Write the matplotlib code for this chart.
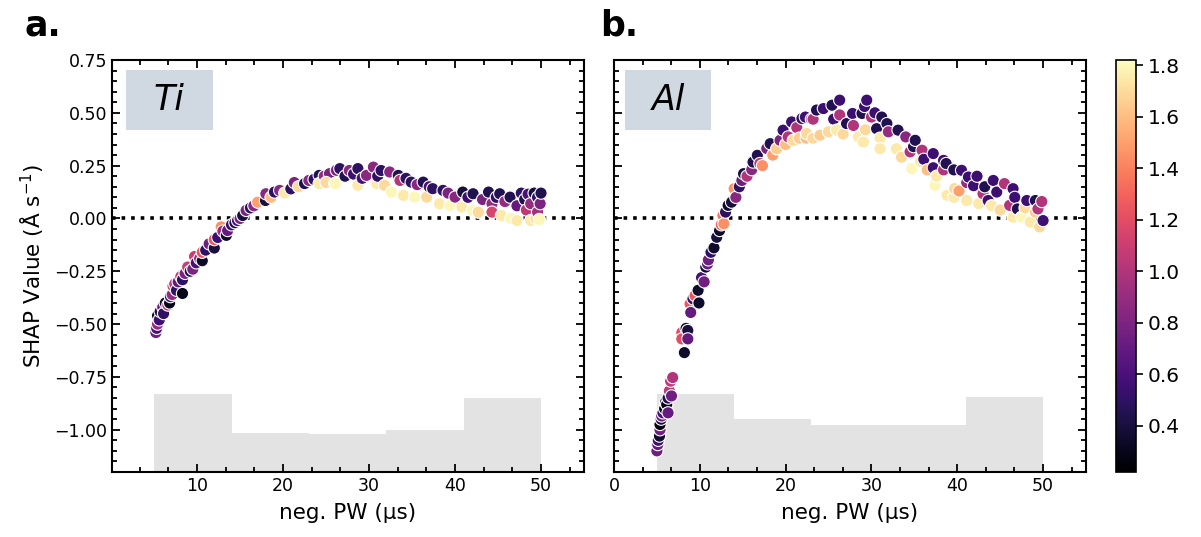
import numpy as np
import matplotlib
matplotlib.use("Agg")
import matplotlib.pyplot as plt
from matplotlib.ticker import MultipleLocator, AutoMinorLocator
from matplotlib.patches import Rectangle

# ---------------- data ----------------
ti_points = [
    (5.2,-0.54,0.75),(5.3,-0.52,0.6),(5.4,-0.50,0.9),(5.4,-0.46,0.3),(5.6,-0.48,0.55),(5.7,-0.44,0.4),
    (6.0,-0.42,0.75),(6.1,-0.45,0.5),(6.3,-0.40,0.35),(6.6,-0.41,1.05),(6.8,-0.40,0.3),(6.9,-0.37,0.55),
    (7.1,-0.36,0.9),(7.2,-0.32,1.1),(7.4,-0.31,1.05),(7.6,-0.34,0.5),(7.8,-0.30,0.7),(8.1,-0.275,1.1),
    (8.3,-0.355,0.3),(8.3,-0.29,0.5),(8.6,-0.26,0.8),(8.9,-0.23,1.1),(9.2,-0.25,0.45),(9.5,-0.24,0.8),
    (9.7,-0.18,1.1),(9.9,-0.21,0.6),(10.3,-0.19,0.85),(10.6,-0.20,0.35),(10.6,-0.16,1.25),(11.0,-0.15,0.5),
    (11.4,-0.12,0.75),(12.0,-0.14,0.4),(12.0,-0.10,1.25),(12.4,-0.09,0.55),(12.8,-0.04,1.45),(13.0,-0.06,0.9),
    (13.4,-0.08,0.35),(13.55,-0.057,0.7),(14.0,-0.03,0.55),(14.4,-0.02,0.4),(14.7,-0.01,0.6),(15.0,0.0,0.8),
    (15.3,0.014,0.4),(15.7,0.038,0.8),(16.2,0.05,0.5),(16.6,0.06,0.85),(17.05,0.077,1.5),(17.95,0.085,0.4),
    (18.0,0.117,0.85),(18.6,0.10,1.6),(19.0,0.125,0.5),(19.6,0.133,0.85),(20.2,0.12,1.75),(20.9,0.14,0.5),
    (21.3,0.17,0.8),(21.8,0.15,1.7),(22.5,0.165,0.45),(23.0,0.18,0.85),(23.6,0.185,0.5),(24.2,0.204,0.45),
    (24.2,0.165,1.75),(24.8,0.2,0.9),(25.4,0.212,0.8),(25.0,0.17,1.7),(26.0,0.165,1.75),(26.1,0.165,1.8),
    (26.2,0.228,0.8),(26.6,0.236,0.5),(27.2,0.2,0.45),(27.7,0.227,0.85),(28.2,0.21,0.55),(28.7,0.236,0.5),
    (28.7,0.157,1.75),(29.2,0.19,0.6),(29.7,0.204,0.85),(30.5,0.243,0.85),(30.9,0.165,1.75),(31.0,0.2,0.5),
    (31.4,0.227,0.5),(31.8,0.157,1.7),(32.4,0.22,0.85),(32.6,0.125,1.8),(33.4,0.204,0.45),(33.6,0.18,1.0),
    (34.0,0.109,1.75),(34.3,0.19,0.5),(34.9,0.172,0.5),(35.3,0.101,1.8),(35.6,0.16,0.85),(36.3,0.172,0.45),
    (36.7,0.101,1.7),(37.0,0.15,0.6),(37.4,0.141,0.5),(38.2,0.07,1.75),(38.6,0.133,0.5),(39.2,0.12,0.8),
    (39.4,0.062,1.8),(40.0,0.101,0.85),(40.9,0.125,0.4),(40.8,0.054,1.75),(41.5,0.10,0.55),(42.0,0.038,1.8),
    (42.1,0.117,0.45),(42.7,0.03,1.7),(43.2,0.09,0.8),(43.9,0.125,0.45),(44.3,0.07,0.9),(44.3,0.03,1.15),
    (44.8,0.1,0.5),(45.2,0.117,0.45),(45.4,0.014,1.75),(45.8,0.08,0.9),(46.4,0.101,0.45),(46.5,0.0,1.8),
    (47.2,-0.01,1.75),(47.2,0.06,0.7),(47.7,0.12,0.5),(48.1,0.09,0.45),(48.3,0.04,1.05),(48.5,0.115,0.6),
    (48.8,0.07,0.9),(48.8,-0.01,1.75),(49.2,0.12,0.4),(49.4,0.0,1.7),(49.6,0.1,0.5),(49.6,0.03,0.95),
    (49.8,-0.005,1.8),(49.9,0.07,0.8),(50.0,0.12,0.45),
]

al_points = [
    (5.0,-1.10,0.75),(5.1,-1.07,0.7),(5.16,-1.05,0.55),(5.3,-1.03,0.35),(5.36,-1.0,0.75),(5.36,-0.975,0.25),
    (5.5,-0.95,0.4),(5.56,-0.935,0.75),(5.7,-0.92,0.6),(5.9,-0.90,0.3),(6.0,-0.87,0.5),(6.14,-0.88,0.28),
    (6.3,-0.92,0.7),(6.3,-0.85,0.45),(6.45,-0.816,1.05),(6.6,-0.77,1.05),(6.7,-0.84,0.75),(6.84,-0.753,1.0),
    (7.9,-0.54,1.2),(7.9,-0.57,1.2),(8.2,-0.635,0.35),(8.4,-0.52,0.35),(8.6,-0.53,0.4),(8.6,-0.57,0.7),
    (8.86,-0.405,1.25),(8.94,-0.445,0.7),(9.2,-0.38,0.5),(9.44,-0.365,1.25),(9.8,-0.34,0.35),(9.9,-0.40,0.35),
    (10.2,-0.28,0.6),(10.5,-0.30,0.75),(10.7,-0.23,0.35),(10.9,-0.215,0.7),(11.0,-0.196,0.75),(11.3,-0.16,0.5),
    (11.65,-0.139,0.35),(11.97,-0.089,0.4),(12.3,-0.057,0.35),(12.5,-0.03,1.3),(12.7,0.014,1.35),(12.8,-0.025,1.45),
    (13.0,0.03,0.5),(13.3,0.062,0.35),(13.7,0.077,0.4),(14.0,0.141,1.45),(14.2,0.10,0.85),(14.6,0.15,0.5),
    (14.9,0.18,0.75),(15.1,0.212,0.4),(15.5,0.2,1.0),(16.05,0.231,0.85),(16.2,0.267,0.45),(16.7,0.299,0.45),
    (17.0,0.26,1.0),(17.3,0.25,1.45),(17.8,0.331,0.8),(18.2,0.354,0.45),(18.5,0.30,1.5),(18.96,0.33,1.65),
    (19.35,0.37,0.8),(19.7,0.418,0.55),(20.0,0.35,1.6),(20.3,0.386,1.0),(20.7,0.457,0.55),(20.9,0.37,1.7),
    (21.3,0.43,1.0),(21.6,0.38,1.65),(21.9,0.473,0.5),(22.3,0.48,0.55),(22.4,0.38,1.6),(22.45,0.402,1.7),
    (23.0,0.47,0.85),(23.2,0.47,1.0),(23.2,0.38,1.7),(23.6,0.513,0.45),(24.0,0.394,1.65),(24.4,0.52,0.55),
    (25.0,0.41,1.7),(25.4,0.536,0.45),(25.6,0.47,0.55),(25.95,0.418,1.75),(26.3,0.56,0.55),(26.3,0.49,1.0),
    (26.7,0.40,1.7),(27.1,0.449,0.45),(27.8,0.497,0.55),(27.9,0.44,1.0),(28.5,0.386,1.75),(28.9,0.497,0.45),
    (29.05,0.362,1.75),(29.2,0.53,0.55),(29.3,0.42,1.7),(29.45,0.56,0.55),(30.0,0.48,1.0),(30.4,0.50,0.55),
    (30.6,0.425,0.45),(31.0,0.38,1.75),(31.0,0.33,1.75),(31.2,0.48,0.45),(31.8,0.449,0.45),(31.97,0.41,0.9),
    (32.9,0.33,1.75),(33.1,0.418,0.45),(33.5,0.29,1.7),(34.0,0.386,0.85),(34.5,0.315,1.0),(34.7,0.236,1.8),
    (34.9,0.34,0.45),(35.1,0.37,0.45),(35.7,0.27,1.75),(35.9,0.323,1.0),(36.1,0.28,0.55),(36.5,0.23,1.6),
    (37.2,0.307,0.55),(37.2,0.24,0.55),(37.4,0.157,1.8),(37.6,0.2,1.75),(38.4,0.275,0.55),(38.4,0.23,1.0),
    (38.7,0.26,0.45),(38.8,0.11,1.75),(39.6,0.23,0.45),(39.6,0.10,1.75),(39.7,0.141,1.7),(40.2,0.13,1.5),
    (40.5,0.228,0.55),(41.1,0.17,0.9),(41.1,0.085,1.75),(41.3,0.196,0.55),(41.9,0.155,0.55),(42.3,0.2,0.55),
    (42.5,0.07,1.75),(43.0,0.117,1.0),(43.2,0.15,0.45),(43.6,0.085,0.55),(44.0,0.06,1.75),(44.2,0.18,0.55),
    (44.6,0.125,0.55),(45.0,0.04,1.7),(45.5,0.165,1.0),(46.1,0.062,1.0),(46.5,0.141,0.55),(46.5,0.006,1.75),
    (46.7,0.10,0.55),(47.0,0.045,0.45),(47.5,0.006,1.8),(47.9,0.05,1.7),(48.1,0.085,0.55),(48.5,-0.017,1.75),
    (49.1,0.085,0.45),(49.1,0.03,1.65),(49.4,0.045,1.0),(49.6,-0.04,1.7),(49.85,0.08,1.0),(50.0,-0.01,0.55),
]

ti_pw = [p[0] for p in ti_points]
ti_shap = [p[1] for p in ti_points]
ti_color = [p[2] for p in ti_points]
al_pw = [p[0] for p in al_points]
al_shap = [p[1] for p in al_points]
al_color = [p[2] for p in al_points]

hist_edges = [5, 14, 23, 32, 41, 50]
ti_hist_top = [-0.832, -1.017, -1.022, -1.0, -0.848]
al_hist_top = [-0.832, -0.951, -0.979, -0.979, -0.845]

panel_names = ["Ti", "Al"]
panel_letters = ["a.", "b."]
cbar_ticks = [0.4, 0.6, 0.8, 1.0, 1.2, 1.4, 1.6, 1.8]

# ---------------- figure ----------------
W, H = 1201, 537
fig = plt.figure(figsize=(W / 100, H / 100), dpi=100)
plt.rcParams['font.family'] = ['DejaVu Sans']

ymin, ymax = -1.2, 0.75
vmin, vmax = 0.22, 1.82

axes_px = [(112, 584), (614, 1086)]
top_px, bot_px = 60, 472
axs = []
for i, (l, r) in enumerate(axes_px):
    ax = fig.add_axes([l / W, (H - bot_px) / H, (r - l) / W, (bot_px - top_px) / H])
    axs.append(ax)

datasets = [(ti_pw, ti_shap, ti_color, ti_hist_top), (al_pw, al_shap, al_color, al_hist_top)]
box_x = [(0.029, 0.213), (0.023, 0.206)]
sc = None
for i, ax in enumerate(axs):
    xs, ys, cs, htop = datasets[i]
    edges = np.array(hist_edges, dtype=float)
    heights = np.array(htop) - ymin
    ax.bar(edges[:-1], heights, width=np.diff(edges), bottom=ymin, align='edge',
           color='#e3e3e3', edgecolor='none', zorder=0)
    ax.axhline(0, color='black', ls=':', lw=2.6, zorder=1)
    sc = ax.scatter(xs, ys, c=cs, cmap='magma', vmin=vmin, vmax=vmax, s=78,
                    edgecolors='white', linewidths=0.8, zorder=2)
    ax.set_ylim(ymin, ymax)
    ax.set_xlim(0.1 if i == 0 else 0, 55)
    ax.xaxis.set_major_locator(MultipleLocator(10))
    ax.xaxis.set_minor_locator(AutoMinorLocator(3))
    ax.yaxis.set_major_locator(MultipleLocator(0.25))
    ax.yaxis.set_minor_locator(MultipleLocator(0.05))
    ax.tick_params(which='both', direction='in', top=True, right=True, width=1.3, labelsize=12.5)
    ax.tick_params(which='major', length=6)
    ax.tick_params(which='minor', length=3.5)
    for sp in ax.spines.values():
        sp.set_linewidth(1.5)
    ax.set_xlabel('neg. PW (µs)', fontsize=15.5, labelpad=6)
    if i == 1:
        ax.tick_params(labelleft=False)
    else:
        ax.set_ylabel('SHAP Value (Å s$^{-1}$)', fontsize=15.5, labelpad=6)
    x0, x1 = box_x[i]
    ax.add_patch(Rectangle((x0, 0.83), x1 - x0, 0.146, transform=ax.transAxes,
                           facecolor='#d0d8e2', edgecolor='none', zorder=3))
    ax.text((x0 + x1) / 2, 0.903, panel_names[i], transform=ax.transAxes,
            fontsize=25, style='italic', ha='center', va='center', zorder=4)

fig.text(25 / W, 1 - 35 / H, panel_letters[0], fontsize=25, fontweight='bold', ha='left', va='baseline')
fig.text(600 / W, 1 - 35 / H, panel_letters[1], fontsize=25, fontweight='bold', ha='left', va='baseline')

cax = fig.add_axes([1116 / W, (H - bot_px) / H, 20 / W, (bot_px - top_px) / H])
cb = fig.colorbar(sc, cax=cax, ticks=cbar_ticks)
cb.ax.tick_params(labelsize=14.5, length=5, width=1.2)
cb.outline.set_linewidth(1.2)

fig.savefig('out.png', dpi=100)
